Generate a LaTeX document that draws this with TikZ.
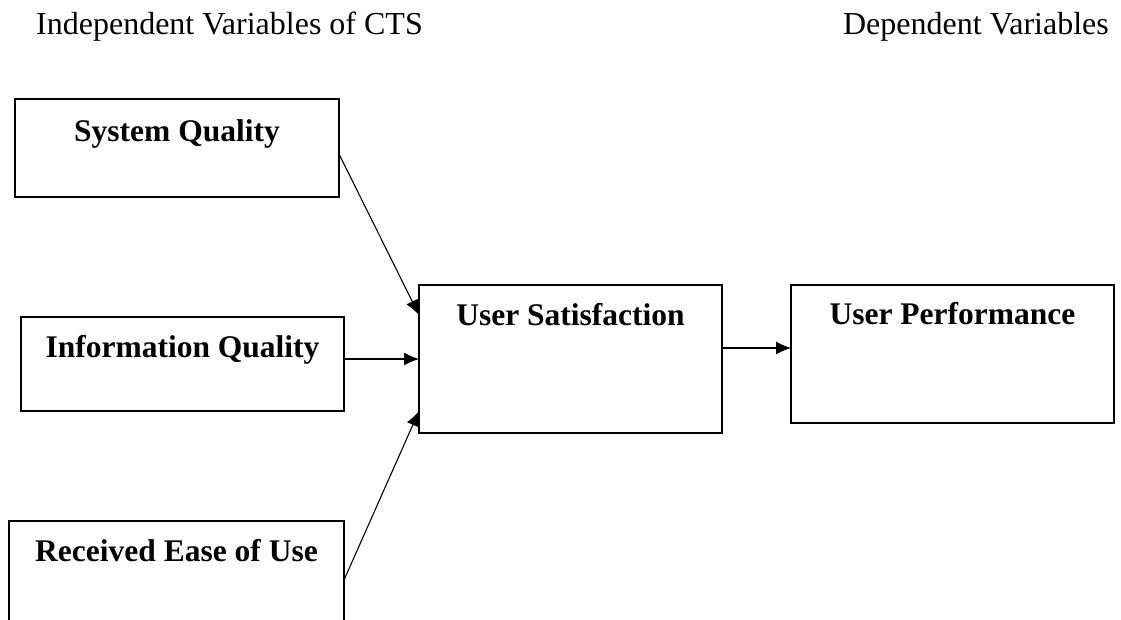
\documentclass[tikz,border=0pt]{standalone}
\usepackage{fontspec}
\setmainfont{Liberation Serif}
\usetikzlibrary{arrows.meta,positioning}
\begin{document}
\begin{tikzpicture}[x=1pt,y=-1pt,
  box/.style={draw,line width=1.2pt,inner sep=0pt,outer sep=0pt},
  title/.style={font=\fontsize{31.5}{36}\selectfont\bfseries,anchor=base,inner sep=0pt},
  head/.style={font=\fontsize{32}{36}\selectfont,inner sep=0pt},
  link/.style={line width=1.1pt,-{Latex[length=15pt,width=13pt]}}]
\useasboundingbox (0,0) rectangle (1121,619);
% headings
\node[head,anchor=base west] (hind) at (36,34) {Independent Variables of CTS};
\node[head,anchor=base east] (hdep) at (1109,34) {Dependent Variables};
% boxes
\node[box,minimum width=324pt,minimum height=98pt] (sq) at (177,148) {};
\node[box,minimum width=323pt,minimum height=94pt] (iq) at (182.5,364) {};
\node[box,minimum width=335pt,minimum height=118pt] (reu) at (176.5,580) {};
\node[box,minimum width=303pt,minimum height=148pt] (us) at (570.5,359) {};
\node[box,minimum width=323pt,minimum height=138pt] (up) at (952.5,354) {};
\node[title] (sqt) at ([yshift=-42pt]sq.north) {System Quality};
\node[title] (iqt) at ([yshift=-40pt]iq.north) {Information Quality};
\node[title] (reut) at ([yshift=-40pt]reu.north) {Received Ease of Use};
\node[title] (ust) at ([yshift=-40pt]us.north) {User Satisfaction};
\node[title] (upt) at ([yshift=-39pt]up.north) {User Performance};
% arrows
\draw[link] ([yshift=-6pt]sq.east)--([yshift=44pt]us.west);
\draw[link] ([yshift=5pt]iq.east)--(us.west);
\draw[link] (reu.east)--([yshift=-52pt]us.west);
\draw[link] ([yshift=11pt]us.east)--([yshift=6pt]up.west);
\end{tikzpicture}
\end{document}
